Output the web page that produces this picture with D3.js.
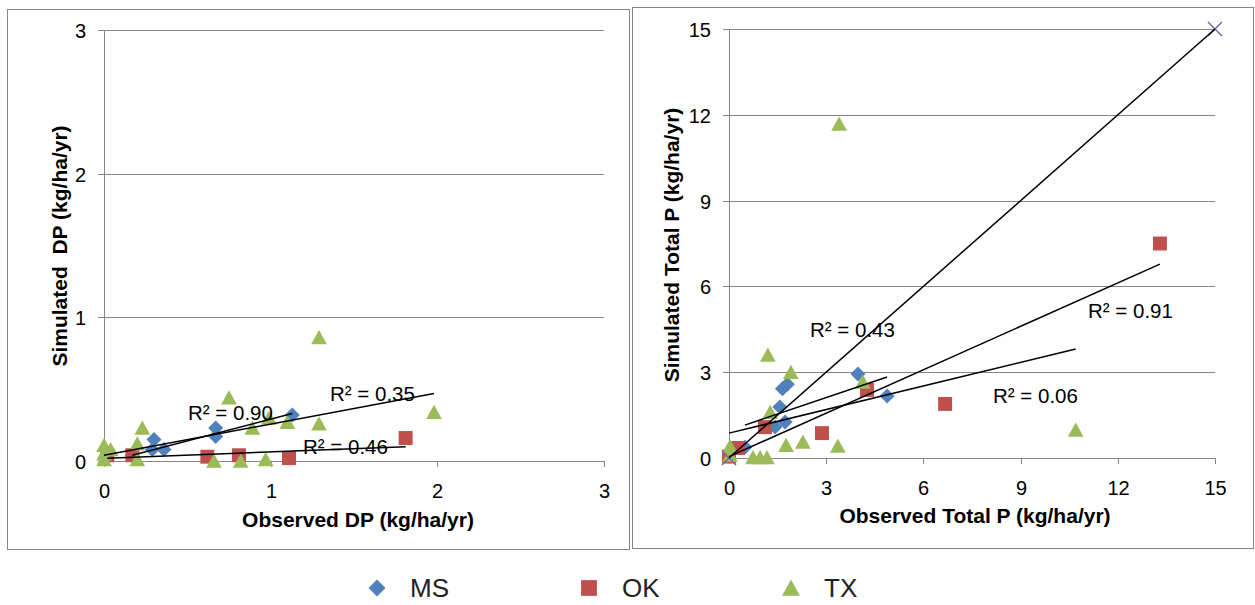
<!DOCTYPE html>
<html>
<head>
<meta charset="utf-8">
<script src="https://cdn.jsdelivr.net/npm/d3@7"></script>
<style>
  body { margin: 0; background: #fff; }
  svg { display: block; font-family: "Liberation Sans", Arial, sans-serif; }
</style>
</head>
<body>
<svg id="chart" width="1255" height="605"></svg>
<script>
/* ---- data (kg/ha/yr) ---- */
var states = ['MS', 'OK', 'TX'];

/* dissolved P */
var dpMS = [[0.17, 0.04], [0.29, 0.08], [0.30, 0.15], [0.36, 0.08], [0.67, 0.17], [0.67, 0.23], [1.13, 0.32]];
var dpOK = [[0.02, 0.04], [0.17, 0.04], [0.62, 0.03], [0.81, 0.04], [1.11, 0.02], [1.81, 0.16]];
var dpTX = [[0, 0.11], [0, 0.05], [0, 0.01], [0.04, 0.08], [0.20, 0.12], [0.20, 0.01], [0.23, 0.23],
            [0.66, 0.0], [0.75, 0.44], [0.82, 0.0], [0.89, 0.23], [0.97, 0.01], [0.99, 0.30],
            [1.10, 0.27], [1.29, 0.26], [1.29, 0.86], [1.98, 0.34]];

/* total P */
var tpMS = [[0.49, 0.38], [1.42, 1.08], [1.57, 1.78], [1.73, 1.26], [1.65, 2.42], [1.80, 2.58], [3.98, 2.94], [4.88, 2.17]];
var tpOK = [[0, 0.05], [0.28, 0.35], [1.11, 1.08], [2.87, 0.87], [4.26, 2.38], [6.67, 1.89], [13.3, 7.5]];
var tpTX = [[0.03, 0.10], [0.03, 0.40], [0.74, 0.02], [0.96, 0.02], [1.17, 0.02], [1.27, 1.60], [1.20, 3.60],
            [1.76, 0.45], [1.91, 3.00], [2.28, 0.56], [3.36, 0.42], [3.40, 11.68], [4.13, 2.66], [10.7, 0.98]];
var tpOneToOne = [[0, 0], [15, 15]];

/* linear trend lines, end points */
var dpFitMS = [[0.17, 0.04], [1.13, 0.33]];
var dpFitOK = [[0.02, 0.02], [1.81, 0.10]];
var dpFitTX = [[0, 0.04], [1.98, 0.47]];
var tpFitMS = [[0.49, 1.15], [4.88, 2.83]];
var tpFitOK = [[0, 0.05], [13.3, 6.78]];
var tpFitTX = [[0, 0.87], [10.7, 3.81]];

var dpR2 = ['R² = 0.90', 'R² = 0.46', 'R² = 0.35'];   // MS, OK, TX
var tpR2 = ['R² = 0.43', 'R² = 0.91', 'R² = 0.06'];

var dpTicks = [0, 1, 2, 3];
var tpTicks = [0, 3, 6, 9, 12, 15];

/* ---- style ---- */
var colors = { MS: '#4F81BD', OK: '#C0504D', TX: '#9BBB59', one: '#8064A2' };
var gridC = '#868686';

var svg = d3.select('#chart');

function marker(g, kind, x, y, s) {
  var h = s / 2, p;
  if (kind === 'MS') p = 'M' + x + ',' + (y - h) + 'L' + (x + h) + ',' + y + 'L' + x + ',' + (y + h) + 'L' + (x - h) + ',' + y + 'Z';
  else if (kind === 'OK') p = 'M' + (x - h * 0.93) + ',' + (y - h * 0.93) + 'h' + (s * 0.93) + 'v' + (s * 0.93) + 'h' + (-s * 0.93) + 'Z';
  else p = 'M' + x + ',' + (y - h) + 'L' + (x + h * 1.05) + ',' + (y + h * 0.9) + 'L' + (x - h * 1.05) + ',' + (y + h * 0.9) + 'Z';
  g.append('path').attr('d', p).attr('fill', colors[kind]);
}

function panel(cfg) {
  var g = svg.append('g');

  /* frame */
  g.append('rect')
    .attr('x', cfg.box[0] + 0.5).attr('y', cfg.box[1] + 0.5)
    .attr('width', cfg.box[2]).attr('height', cfg.box[3])
    .attr('fill', 'none').attr('stroke', gridC).attr('stroke-width', 1);

  var x = d3.scaleLinear().domain(cfg.dom).range(cfg.xr);
  var y = d3.scaleLinear().domain(cfg.dom).range(cfg.yr);

  /* gridlines + y ticks */
  cfg.ticks.forEach(function (t) {
    var yy = Math.round(y(t)) + 0.5;
    g.append('line')
      .attr('x1', cfg.xr[0] - 6).attr('x2', cfg.xr[1])
      .attr('y1', yy).attr('y2', yy)
      .attr('stroke', gridC).attr('stroke-width', 1);
    g.append('text')
      .attr('x', cfg.xr[0] - 18).attr('y', yy + 7)
      .attr('text-anchor', 'end').attr('font-size', 20).attr('fill', '#000')
      .text(t);
  });

  /* y axis */
  var ax = Math.round(cfg.xr[0]) + 0.5;
  g.append('line')
    .attr('x1', ax).attr('x2', ax)
    .attr('y1', cfg.yr[1]).attr('y2', cfg.yr[0])
    .attr('stroke', gridC).attr('stroke-width', 1);

  /* x ticks */
  cfg.ticks.forEach(function (t) {
    var xx = Math.round(x(t)) + 0.5;
    g.append('line')
      .attr('x1', xx).attr('x2', xx)
      .attr('y1', cfg.yr[0]).attr('y2', cfg.yr[0] + 6)
      .attr('stroke', gridC).attr('stroke-width', 1);
    g.append('text')
      .attr('x', xx).attr('y', cfg.yr[0] + 37)
      .attr('text-anchor', 'middle').attr('font-size', 20).attr('fill', '#000')
      .text(t);
  });

  /* axis titles */
  g.append('text')
    .attr('x', cfg.xTitle[0]).attr('y', cfg.xTitle[1])
    .attr('text-anchor', 'middle').attr('font-size', 21).attr('font-weight', 'bold')
    .style('white-space', 'pre')
    .text(cfg.xLabel);
  g.append('text')
    .attr('transform', 'translate(' + cfg.yTitle[0] + ',' + cfg.yTitle[1] + ') rotate(-90)')
    .attr('text-anchor', 'middle').attr('font-size', 21).attr('font-weight', 'bold')
    .style('white-space', 'pre')
    .text(cfg.yLabel);

  /* markers */
  cfg.series.forEach(function (s, i) {
    s.forEach(function (d) { marker(g, states[i], x(d[0]), y(d[1]), 15); });
  });

  if (cfg.extra) {
    cfg.extra.forEach(function (d) {
      var cx = x(d[0]), cy = y(d[1]), h = 7;
      g.append('path')
        .attr('d', 'M' + (cx - h) + ',' + (cy - h) + 'L' + (cx + h) + ',' + (cy + h) + 'M' + (cx - h) + ',' + (cy + h) + 'L' + (cx + h) + ',' + (cy - h))
        .attr('stroke', colors.one).attr('stroke-width', 1.5).attr('fill', 'none');
    });
  }

  /* trend lines */
  var line = d3.line().x(function (d) { return x(d[0]); }).y(function (d) { return y(d[1]); });
  cfg.fits.forEach(function (f) {
    g.append('path').attr('d', line(f))
      .attr('fill', 'none').attr('stroke', '#000').attr('stroke-width', 1.5);
  });

  /* R² labels (left edge x, centre y in px) */
  cfg.r2.forEach(function (txt, i) {
    g.append('text')
      .attr('x', cfg.r2Pos[i][0]).attr('y', cfg.r2Pos[i][1] + 7)
      .attr('font-size', 20.5).attr('fill', '#000')
      .text(txt);
  });
}

panel({
  box: [7, 9, 622, 540],
  dom: [0, 3], xr: [104, 604], yr: [461, 30],
  ticks: dpTicks,
  xLabel: 'Observed DP (kg/ha/yr)', xTitle: [358, 527],
  yLabel: 'Simulated  DP (kg/ha/yr)', yTitle: [67, 246],
  series: [dpMS, dpOK, dpTX],
  fits: [dpFitMS, dpFitOK, dpFitTX],
  r2: dpR2, r2Pos: [[188, 413], [303, 447], [330, 394]]
});

panel({
  box: [632, 7, 621, 541],
  dom: [0, 15], xr: [729, 1215], yr: [458, 29],
  ticks: tpTicks,
  xLabel: 'Observed Total P (kg/ha/yr)', xTitle: [975, 523],
  yLabel: 'Simulated Total P (kg/ha/yr)', yTitle: [679, 245],
  series: [tpMS, tpOK, tpTX],
  extra: tpOneToOne,
  fits: [tpOneToOne, tpFitMS, tpFitOK, tpFitTX],
  r2: tpR2, r2Pos: [[810, 330], [1088, 311], [993, 396]]
});

/* legend */
var lg = svg.append('g');
var legX = [377, 589, 791];
states.forEach(function (s, i) {
  marker(lg, s, legX[i], 588, 17);
  lg.append('text')
    .attr('x', legX[i] + 33).attr('y', 597)
    .attr('font-size', 26).attr('fill', '#222')
    .text(s);
});
</script>
</body>
</html>
